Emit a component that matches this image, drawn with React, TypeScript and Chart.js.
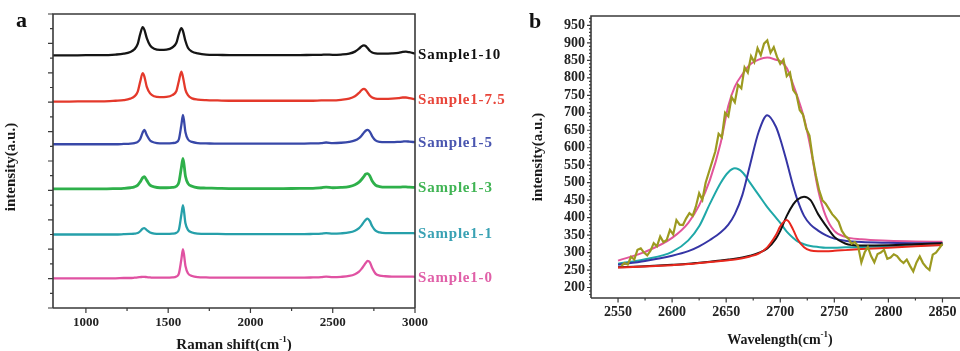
import { useEffect, useRef } from "react";
import { Chart, registerables } from "chart.js";
Chart.register(...registerables);

// ---------- Panel a : Raman spectra ----------
const ramanShift = [800, 900, 1000, 1100, 1180, 1230, 1270, 1295, 1315, 1330, 1345, 1355, 1370, 1390, 1415, 1450, 1490, 1525, 1550, 1565, 1580, 1590, 1605, 1620, 1645, 1680, 1730, 1800, 1900, 2000, 2100, 2200, 2300, 2380, 2430, 2460, 2500, 2550, 2600, 2635, 2660, 2675, 2690, 2700, 2712, 2725, 2740, 2760, 2785, 2820, 2860, 2900, 2925, 2945, 2965, 3000];

const sample10 = [8.59, 8.59, 8.6, 8.6, 8.62, 8.65, 8.71, 8.8, 8.98, 9.32, 9.55, 9.47, 9.18, 8.93, 8.82, 8.78, 8.79, 8.86, 9.02, 9.32, 9.52, 9.42, 9.08, 8.85, 8.72, 8.66, 8.62, 8.61, 8.6, 8.6, 8.6, 8.6, 8.6, 8.61, 8.61, 8.62, 8.61, 8.62, 8.65, 8.72, 8.82, 8.9, 8.93, 8.91, 8.84, 8.75, 8.69, 8.66, 8.65, 8.65, 8.66, 8.68, 8.71, 8.72, 8.7, 8.65];
const sample75 = [7.02, 7.02, 7.03, 7.03, 7.05, 7.07, 7.12, 7.2, 7.36, 7.7, 7.99, 7.88, 7.52, 7.3, 7.2, 7.17, 7.18, 7.24, 7.38, 7.72, 8.04, 7.85, 7.42, 7.24, 7.13, 7.09, 7.07, 7.06, 7.05, 7.05, 7.05, 7.05, 7.05, 7.05, 7.06, 7.06, 7.06, 7.08, 7.12, 7.2, 7.32, 7.41, 7.45, 7.42, 7.33, 7.23, 7.16, 7.12, 7.11, 7.11, 7.12, 7.14, 7.16, 7.16, 7.14, 7.1];
const sample5 = [5.57, 5.57, 5.57, 5.57, 5.57, 5.58, 5.59, 5.61, 5.65, 5.75, 5.97, 6.06, 5.88, 5.7, 5.63, 5.6, 5.6, 5.61, 5.64, 5.74, 6.22, 6.57, 5.98, 5.74, 5.65, 5.61, 5.6, 5.59, 5.59, 5.59, 5.59, 5.59, 5.59, 5.6, 5.61, 5.63, 5.61, 5.62, 5.65, 5.7, 5.78, 5.86, 5.97, 6.03, 6.06, 6.0, 5.84, 5.7, 5.65, 5.64, 5.64, 5.65, 5.66, 5.67, 5.66, 5.64];
const sample3 = [4.05, 4.05, 4.05, 4.05, 4.06, 4.07, 4.09, 4.12, 4.18, 4.29, 4.43, 4.47, 4.34, 4.18, 4.12, 4.09, 4.09, 4.1, 4.14, 4.27, 4.77, 5.09, 4.48, 4.24, 4.14, 4.09, 4.08, 4.07, 4.06, 4.06, 4.06, 4.06, 4.07, 4.07, 4.09, 4.11, 4.09, 4.1, 4.13, 4.19, 4.28, 4.37, 4.48, 4.55, 4.57, 4.5, 4.32, 4.18, 4.13, 4.11, 4.11, 4.11, 4.12, 4.12, 4.11, 4.1];
const sample1 = [2.5, 2.5, 2.5, 2.5, 2.5, 2.51, 2.52, 2.53, 2.55, 2.61, 2.7, 2.72, 2.65, 2.57, 2.53, 2.52, 2.52, 2.53, 2.56, 2.66, 3.17, 3.5, 2.88, 2.66, 2.57, 2.53, 2.52, 2.52, 2.51, 2.51, 2.51, 2.51, 2.51, 2.52, 2.53, 2.55, 2.53, 2.54, 2.57, 2.63, 2.72, 2.81, 2.93, 3.0, 3.04, 2.96, 2.78, 2.63, 2.57, 2.55, 2.55, 2.55, 2.55, 2.55, 2.55, 2.54];
const sample0 = [1.01, 1.01, 1.01, 1.01, 1.01, 1.02, 1.02, 1.03, 1.04, 1.05, 1.06, 1.06, 1.05, 1.04, 1.03, 1.03, 1.03, 1.04, 1.07, 1.17, 1.65, 2.0, 1.43, 1.18, 1.09, 1.05, 1.04, 1.03, 1.03, 1.03, 1.03, 1.03, 1.03, 1.04, 1.05, 1.07, 1.05, 1.06, 1.09, 1.15, 1.24, 1.33, 1.45, 1.53, 1.6, 1.56, 1.36, 1.17, 1.1, 1.08, 1.07, 1.07, 1.07, 1.07, 1.07, 1.06];

const sampleNames = ["Sample1-10", "Sample1-7.5", "Sample1-5", "Sample1-3", "Sample1-1", "Sample1-0"];
const sampleSeries = [sample10, sample75, sample5, sample3, sample1, sample0];
const sampleColors = ["#151515", "#e4392b", "#3848a8", "#2eb04a", "#26a0aa", "#e052a2"];
const sampleLabelColors = ["#111111", "#e8453a", "#4a56b0", "#40b454", "#3aa2b4", "#e060a8"];

const ramanTicks = [1000, 1500, 2000, 2500, 3000];
const ramanMinorTicks = [1250, 1750, 2250, 2750];

// ---------- Panel b : 2D peak fitting ----------
const fitShift = [2550, 2575, 2600, 2615, 2625, 2635, 2645, 2652, 2658, 2665, 2672, 2680, 2688, 2696, 2700, 2706, 2712, 2716, 2722, 2728, 2735, 2742, 2750, 2760, 2775, 2800, 2825, 2850];
const fitEnvelope = [277, 302, 342, 385, 435, 508, 615, 720, 775, 810, 838, 852, 858, 852, 848, 828, 780, 745, 685, 600, 480, 405, 362, 345, 338, 334, 332, 331];
const fitPeak1 = [268, 281, 302, 335, 375, 440, 500, 530, 541, 530, 500, 465, 430, 400, 385, 360, 342, 332, 324, 319, 316, 314, 314, 315, 316, 318, 320, 322];
const fitPeak2 = [265, 276, 291, 304, 318, 336, 358, 380, 410, 465, 550, 645, 693, 660, 625, 560, 490, 450, 405, 380, 363, 350, 340, 334, 330, 328, 327, 327];
const fitPeak3 = [257, 260, 264, 267, 270, 273, 276, 278, 280, 284, 289, 297, 315, 350, 375, 393, 365, 338, 315, 306, 304, 304, 305, 307, 310, 314, 318, 322];
const fitPeak4 = [258, 261, 265, 268, 271, 274, 277, 280, 282, 286, 291, 299, 312, 340, 362, 405, 438, 452, 460, 450, 410, 378, 345, 326, 320, 321, 324, 327];

const rawShift = [2553, 2556, 2559, 2562, 2565, 2568, 2571, 2574, 2577, 2580, 2583, 2586, 2589, 2592, 2595, 2598, 2601, 2604, 2607, 2610, 2613, 2616, 2619, 2622, 2625, 2628, 2631, 2634, 2637, 2640, 2643, 2646, 2649, 2652, 2655, 2658, 2661, 2664, 2667, 2670, 2673, 2676, 2679, 2682, 2685, 2688, 2691, 2694, 2697, 2700, 2703, 2706, 2709, 2712, 2715, 2718, 2721, 2724, 2727, 2730, 2733, 2736, 2739, 2742, 2745, 2748, 2751, 2754, 2757, 2760, 2763, 2766, 2769, 2772, 2775, 2778, 2781, 2784, 2787, 2790, 2793, 2796, 2799, 2802, 2805, 2808, 2811, 2814, 2817, 2820, 2823, 2826, 2829, 2832, 2835, 2838, 2841, 2844, 2847, 2850];
const rawIntensity = [262, 270, 266, 288, 280, 308, 312, 300, 292, 305, 327, 318, 346, 330, 336, 365, 352, 393, 380, 379, 398, 413, 405, 432, 470, 451, 500, 530, 560, 590, 640, 630, 700, 690, 745, 730, 780, 770, 830, 815, 862, 845, 885, 865, 898, 907, 872, 888, 860, 840, 852, 805, 815, 765, 752, 708, 695, 655, 635, 570, 520, 478, 450, 440, 425, 410, 400, 388, 362, 348, 340, 325, 330, 318, 272, 300, 316, 290, 272, 296, 300, 308, 282, 286, 295, 290, 278, 270, 280, 262, 246, 272, 289, 270, 258, 250, 294, 300, 312, 325];

const wavelengthTicks = [2550, 2600, 2650, 2700, 2750, 2800, 2850];
const wavelengthMinorTicks = [2575, 2625, 2675, 2725, 2775, 2825];
const fitIntensityTicks = [200, 250, 300, 350, 400, 450, 500, 550, 600, 650, 700, 750, 800, 850, 900, 950];

const SERIF = '"Liberation Serif", "Times New Roman", serif';

function pts(xs: number[], ys: number[]) {
  return xs.map((x, i) => ({ x, y: ys[i] }));
}

function drawTitleWithSup(ctx: CanvasRenderingContext2D, pre: string, sup: string, post: string, cx: number, cy: number, size: number, rotate: boolean) {
  ctx.save();
  ctx.translate(cx, cy);
  if (rotate) ctx.rotate(-Math.PI / 2);
  const main = `bold ${size}px ${SERIF}`;
  const small = `bold ${Math.round(size * 0.62)}px ${SERIF}`;
  ctx.font = main;
  const w1 = ctx.measureText(pre).width;
  const w3 = ctx.measureText(post).width;
  ctx.font = small;
  const w2 = ctx.measureText(sup).width;
  const total = w1 + w2 + w3;
  let x = -total / 2;
  ctx.textBaseline = "middle";
  ctx.textAlign = "left";
  ctx.fillStyle = "#1a1a1a";
  ctx.font = main;
  ctx.fillText(pre, x, 0);
  x += w1;
  if (sup) {
    ctx.font = small;
    ctx.fillText(sup, x, -size * 0.35);
    x += w2;
  }
  ctx.font = main;
  ctx.fillText(post, x, 0);
  ctx.restore();
}

type TickSpec = { major: number[]; minor: number[]; majorLen: number; minorLen: number };

function drawFrameAndTicks(chart: any, xt: TickSpec, yt: TickSpec, drawRight: boolean) {
  const { ctx, chartArea: ca, scales } = chart;
  ctx.save();
  ctx.strokeStyle = "#3a3a3a";
  ctx.lineWidth = 1.6;
  ctx.beginPath();
  ctx.moveTo(ca.left, ca.bottom);
  ctx.lineTo(ca.left, ca.top);
  ctx.lineTo(ca.right, ca.top);
  if (drawRight) ctx.lineTo(ca.right, ca.bottom);
  ctx.moveTo(ca.left, ca.bottom);
  ctx.lineTo(ca.right, ca.bottom);
  ctx.stroke();
  ctx.lineWidth = 1.2;
  ctx.beginPath();
  for (const v of xt.major) {
    const px = scales.x.getPixelForValue(v);
    ctx.moveTo(px, ca.bottom);
    ctx.lineTo(px, ca.bottom + xt.majorLen);
  }
  for (const v of xt.minor) {
    const px = scales.x.getPixelForValue(v);
    ctx.moveTo(px, ca.bottom);
    ctx.lineTo(px, ca.bottom + xt.minorLen);
  }
  for (const v of yt.major) {
    const py = scales.y.getPixelForValue(v);
    ctx.moveTo(ca.left, py);
    ctx.lineTo(ca.left - yt.majorLen, py);
  }
  for (const v of yt.minor) {
    const py = scales.y.getPixelForValue(v);
    ctx.moveTo(ca.left, py);
    ctx.lineTo(ca.left - yt.minorLen, py);
  }
  ctx.stroke();
  ctx.restore();
}

function RamanChart() {
  const ref = useRef<HTMLCanvasElement>(null);
  useEffect(() => {
    const yMajor: number[] = [];
    const yMinor: number[] = [];
    for (let v = 0; v <= 10; v++) yMajor.push(v);
    for (let v = 0.5; v < 10; v++) yMinor.push(v);
    const decor = {
      id: "decorA",
      afterDraw(chart: any) {
        const { ctx, chartArea: ca, scales } = chart;
        drawFrameAndTicks(chart, { major: ramanTicks, minor: ramanMinorTicks, majorLen: 5, minorLen: 3 }, { major: yMajor, minor: yMinor, majorLen: 5, minorLen: 3 }, true);
        ctx.save();
        ctx.font = `bold 15px ${SERIF}`;
        (ctx as any).letterSpacing = "0.8px";
        ctx.textBaseline = "middle";
        ctx.textAlign = "left";
        sampleNames.forEach((name, i) => {
          const s = sampleSeries[i];
          const py = scales.y.getPixelForValue(s[s.length - 1]);
          ctx.fillStyle = sampleLabelColors[i];
          ctx.fillText(name, ca.right + 3, py + 1);
        });
        (ctx as any).letterSpacing = "0px";
        ctx.fillStyle = "#111";
        ctx.font = `bold 22px ${SERIF}`;
        ctx.textBaseline = "alphabetic";
        ctx.fillText("a", 16, 27);
        ctx.restore();
        drawTitleWithSup(ctx, "intensity(a.u.)", "", "", 11, 167, 15, true);
        drawTitleWithSup(ctx, "Raman shift(cm", "-1", ")", 234, 345, 15, false);
      },
    };
    const chart = new Chart(ref.current!, {
      type: "line",
      data: {
        datasets: sampleSeries.map((s, i) => ({
          label: sampleNames[i],
          data: pts(ramanShift, s),
          borderColor: sampleColors[i],
          borderWidth: i === 3 ? 2.8 : 2.3,
          pointRadius: 0,
          fill: false,
          cubicInterpolationMode: "monotone" as const,
        })),
      },
      options: {
        responsive: false,
        animation: false,
        events: [],
        layout: { padding: { top: 14, right: 125, left: 0, bottom: 0 } },
        plugins: { legend: { display: false }, tooltip: { enabled: false } },
        scales: {
          x: {
            type: "linear",
            min: 800,
            max: 3000,
            grid: { display: false, drawTicks: false },
            border: { display: false },
            afterBuildTicks: (sc: any) => {
              sc.ticks = ramanTicks.map((v) => ({ value: v }));
            },
            afterFit: (sc: any) => {
              sc.height = 43;
            },
            ticks: {
              autoSkip: false,
              maxRotation: 0,
              padding: 7,
              color: "#222",
              font: { family: SERIF, size: 13, weight: "bold" },
              callback: (v: any) => String(v),
            },
          },
          y: {
            type: "linear",
            min: 0,
            max: 10,
            grid: { display: false, drawTicks: false },
            border: { display: false },
            ticks: { display: false },
            afterFit: (sc: any) => {
              sc.width = 53;
            },
          },
        },
      },
      plugins: [decor],
    });
    return () => chart.destroy();
  }, []);
  return <canvas ref={ref} width={540} height={351} style={{ position: "absolute", left: 0, top: 0 }} />;
}

function FitChart() {
  const ref = useRef<HTMLCanvasElement>(null);
  useEffect(() => {
    const yMinor: number[] = [];
    for (let v = 180; v <= 970; v += 10) if (v % 50 !== 0) yMinor.push(v);
    const decor = {
      id: "decorB",
      afterDraw(chart: any) {
        const { ctx } = chart;
        drawFrameAndTicks(chart, { major: wavelengthTicks, minor: wavelengthMinorTicks, majorLen: 4.5, minorLen: 2.5 }, { major: fitIntensityTicks, minor: yMinor, majorLen: 4, minorLen: 2 }, true);
        ctx.save();
        ctx.fillStyle = "#111";
        ctx.font = `bold 22px ${SERIF}`;
        ctx.textBaseline = "alphabetic";
        ctx.textAlign = "left";
        ctx.fillText("b", 49, 28);
        ctx.restore();
        drawTitleWithSup(ctx, "intensity(a.u.)", "", "", 58, 157, 15, true);
        drawTitleWithSup(ctx, "Wavelength(cm", "-1", ")", 300, 340, 14, false);
      },
    };
    const lineDs = (label: string, xs: number[], ys: number[], color: string, w: number) => ({
      label,
      data: pts(xs, ys),
      borderColor: color,
      borderWidth: w,
      pointRadius: 0,
      fill: false,
      cubicInterpolationMode: "monotone" as const,
    });
    const chart = new Chart(ref.current!, {
      type: "line",
      data: {
        datasets: [
          { ...lineDs("raw", rawShift, rawIntensity, "#9c9a20", 2.2), cubicInterpolationMode: "default" as const, tension: 0 },
          lineDs("peak3", fitShift, fitPeak3, "#e8281e", 2),
          lineDs("peak4", fitShift, fitPeak4, "#111111", 2),
          lineDs("peak2", fitShift, fitPeak2, "#3535a5", 2),
          lineDs("peak1", fitShift, fitPeak1, "#1fa8a8", 2),
          lineDs("envelope", fitShift, fitEnvelope, "#e2559b", 2),
        ],
      },
      options: {
        responsive: false,
        animation: false,
        events: [],
        layout: { padding: { top: 16, right: 30.5, left: 0, bottom: 0 } },
        plugins: { legend: { display: false }, tooltip: { enabled: false } },
        scales: {
          x: {
            type: "linear",
            min: 2525,
            max: 2875,
            grid: { display: false, drawTicks: false },
            border: { display: false },
            afterBuildTicks: (sc: any) => {
              sc.ticks = wavelengthTicks.map((v) => ({ value: v }));
            },
            afterFit: (sc: any) => {
              sc.height = 53;
            },
            ticks: {
              autoSkip: false,
              maxRotation: 0,
              padding: 6,
              color: "#222",
              font: { family: SERIF, size: 14, weight: "bold" },
              callback: (v: any) => String(v),
            },
          },
          y: {
            type: "linear",
            min: 170,
            max: 977,
            grid: { display: false, drawTicks: false },
            border: { display: false },
            afterBuildTicks: (sc: any) => {
              sc.ticks = fitIntensityTicks.map((v) => ({ value: v }));
            },
            afterFit: (sc: any) => {
              sc.width = 111;
            },
            ticks: {
              autoSkip: false,
              padding: 6,
              color: "#222",
              font: { family: SERIF, size: 14, weight: "bold" },
              callback: (v: any) => String(v),
            },
          },
        },
      },
      plugins: [decor],
    });
    return () => chart.destroy();
  }, []);
  return <canvas ref={ref} width={520} height={351} style={{ position: "absolute", left: 480, top: 0 }} />;
}

export default function App() {
  return (
    <div style={{ position: "absolute", left: 0, top: 0, width: 960, height: 351, overflow: "hidden", background: "#fff" }}>
      <RamanChart />
      <FitChart />
    </div>
  );
}
